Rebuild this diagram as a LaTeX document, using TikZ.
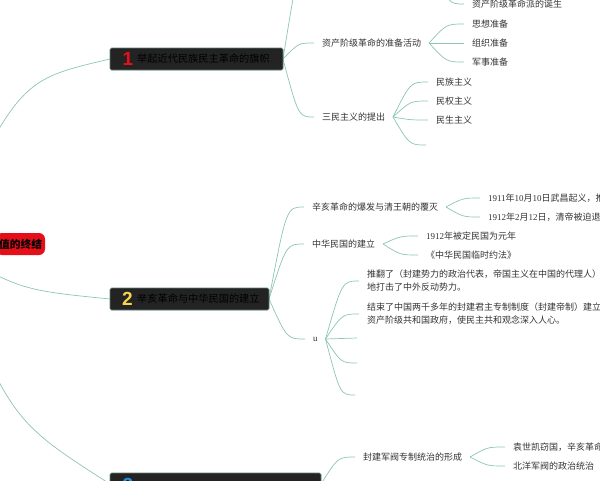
\documentclass[tikz,border=0pt]{standalone}
\usepackage{fontspec}
\setmainfont{Noto Sans CJK SC}
\newfontfamily\lat{Liberation Serif}
\newfontfamily\numfont{Liberation Sans}
\usetikzlibrary{calc,backgrounds}
\definecolor{lineC}{HTML}{8CC5B5}
\definecolor{boxC}{HTML}{232323}
\definecolor{boxB}{HTML}{5E7E74}
\definecolor{rootC}{HTML}{E50F1A}
\definecolor{txt}{HTML}{333333}
\definecolor{numA}{HTML}{E8101C}
\definecolor{numB}{HTML}{F2D64B}
\definecolor{numC}{HTML}{1E90E0}
\tikzset{
  conn/.style={draw=lineC, line width=0.7pt},
  branchbox/.style={fill=boxC, draw=boxB, line width=0.6pt, rounded corners=1.5pt,
    minimum height=22pt, anchor=west, inner sep=0pt, outer sep=0pt},
  rootbox/.style={fill=rootC, rounded corners=6pt, minimum height=22pt, inner xsep=3pt,
    inner ysep=0pt, outer sep=0pt, font=\fontsize{10.7}{12}\selectfont\bfseries, text=black},
  numlabel/.style={font=\numfont\fontsize{19}{19}\selectfont\bfseries, inner sep=0pt},
  btext/.style={font=\fontsize{10.2}{12}\selectfont, text=black, anchor=west, inner sep=0pt},
  ctext/.style={font=\fontsize{9}{13}\selectfont, text=txt, anchor=west, inner xsep=8pt,
    inner ysep=1pt, outer sep=0pt, align=left},
}
\newcommand\fan[2]{\draw[conn] let \p1=(#1), \p2=(#2) in (\p1) .. controls ({0.5*\x1+0.5*\x2},\y2) .. (\p2);}
\begin{document}
\begin{tikzpicture}[x=1pt,y=-1pt]
\useasboundingbox (0,0) rectangle (600,480);
% root
\node[rootbox, anchor=east] (root) at (45,244) {值的终结};
\coordinate (rc) at (-60,244);
% branch boxes
\node[branchbox, minimum width=173pt] (b1) at (110,59) {};
\node[numlabel, text=numA] (b1n) at (128,59) {1};
\node[btext] (b1t) at (137,59) {举起近代民族民主革命的旗帜};
\node[branchbox, minimum width=159pt] (b2) at (110,299) {};
\node[numlabel, text=numB] (b2n) at (127.5,299) {2};
\node[btext] (b2t) at (137,299) {辛亥革命与中华民国的建立};
\node[branchbox, minimum width=211pt] (b3) at (110,484) {};
\node[numlabel, text=numC] (b3n) at (128,485) {3};
% branch 1 children
\coordinate (c1a) at (315,-40);
\coordinate (c1ae) at (432,-40);
\node[ctext] (c1a1) at (464,4) {资产阶级革命派的诞生};
\node[ctext] (c1b) at (314,43) {资产阶级革命的准备活动};
\node[ctext] (c1b1) at (464,24) {思想准备};
\node[ctext] (c1b2) at (464,43) {组织准备};
\node[ctext] (c1b3) at (464,62) {军事准备};
\node[ctext] (c1c) at (314,117) {三民主义的提出};
\node[ctext] (c1c1) at (428,82) {民族主义};
\node[ctext] (c1c2) at (428,101) {民权主义};
\node[ctext] (c1c3) at (428,120) {民生主义};
\coordinate (e1) at (426,145);
% branch 2 children
\node[ctext] (c2a) at (304,207) {辛亥革命的爆发与清王朝的覆灭};
\node[ctext] (c2a1) at (480,198) {{\lat 1911}年{\lat 10}月{\lat 10}日武昌起义，推};
\node[ctext] (c2a2) at (480,217) {{\lat 1912}年{\lat 2}月{\lat 12}日，清帝被迫退};
\node[ctext] (c2b) at (304,244) {中华民国的建立};
\node[ctext] (c2b1) at (418,236) {{\lat 1912}年被定民国为元年};
\node[ctext] (c2b2) at (418,255) {《中华民国临时约法》};
\node[ctext] (c2c) at (305,339) {\lat u};
\node[ctext] (c2c1) at (359,281) {推翻了（封建势力的政治代表，帝国主义在中国的代理人）\\地打击了中外反动势力。};
\node[ctext] (c2c2) at (359,314) {结束了中国两千多年的封建君主专制制度（封建帝制）建立\\资产阶级共和国政府，使民主共和观念深入人心。};
\coordinate (e2) at (357,338);
\coordinate (e3) at (357,363);
\coordinate (e4) at (355,395);
% branch 3 children
\node[ctext] (c3a) at (355,457) {封建军阀专制统治的形成};
\node[ctext] (c3a1) at (505,447) {袁世凯窃国，辛亥革命};
\node[ctext] (c3a2) at (505,466) {北洋军阀的政治统治};
% connectors
\begin{scope}[on background layer]
\draw[conn] (rc) .. controls (20,80) .. (b1.west);
\draw[conn] (rc) .. controls (20,290) .. (b2.west);
\draw[conn] (rc) .. controls (10,420) .. (b3.west);
\fan{b1.east}{c1a}
\fan{b1.east}{c1b.west}
\fan{b1.east}{c1c.west}
\fan{c1ae}{c1a1.west}
\fan{c1b.east}{c1b1.west}
\fan{c1b.east}{c1b2.west}
\fan{c1b.east}{c1b3.west}
\fan{c1c.east}{c1c1.west}
\fan{c1c.east}{c1c2.west}
\fan{c1c.east}{c1c3.west}
\fan{c1c.east}{e1}
\fan{b2.east}{c2a.west}
\fan{b2.east}{c2b.west}
\fan{b2.east}{c2c.west}
\fan{c2a.east}{c2a1.west}
\fan{c2a.east}{c2a2.west}
\fan{c2b.east}{c2b1.west}
\fan{c2b.east}{c2b2.west}
\fan{c2c.east}{c2c1.west}
\fan{c2c.east}{c2c2.west}
\fan{c2c.east}{e2}
\fan{c2c.east}{e3}
\fan{c2c.east}{e4}
\fan{b3.east}{c3a.west}
\fan{c3a.east}{c3a1.west}
\fan{c3a.east}{c3a2.west}
\end{scope}
\end{tikzpicture}
\end{document}
